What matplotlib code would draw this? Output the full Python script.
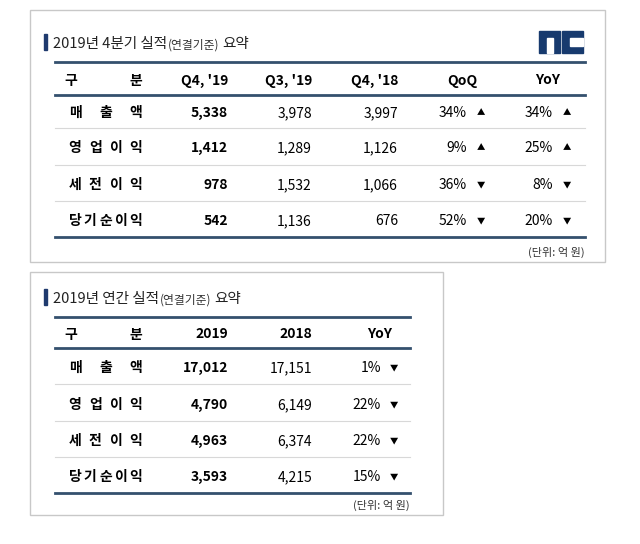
import matplotlib
matplotlib.use("Agg")
import matplotlib.pyplot as plt
from matplotlib.patches import Rectangle
from matplotlib import font_manager

names = {f.name for f in font_manager.fontManager.ttflist}
cands = [n for n in ["Noto Sans CJK KR", "Noto Sans CJK JP", "Noto Sans CJK SC", "Noto Sans CJK TC"] if n in names]
plt.rcParams["font.family"] = cands + ["DejaVu Sans"]

q_cols = ["Q4, '19", "Q3, '19", "Q4, '18", "QoQ", "YoY"]
items = ["매출액", "영업이익", "세전이익", "당기순이익"]
q4_19 = ["5,338", "1,412", "978", "542"]
q3_19 = ["3,978", "1,289", "1,532", "1,136"]
q4_18 = ["3,997", "1,126", "1,066", "676"]
qoq = ["34%", "9%", "36%", "52%"]
qoq_dir = ["▲", "▲", "▼", "▼"]
yoy = ["34%", "25%", "8%", "20%"]
yoy_dir = ["▲", "▲", "▼", "▼"]

y_cols = ["2019", "2018", "YoY"]
a2019 = ["17,012", "4,790", "4,963", "3,593"]
a2018 = ["17,151", "6,149", "6,374", "4,215"]
ayoy = ["1%", "22%", "22%", "15%"]
ayoy_dir = ["▼", "▼", "▼", "▼"]

LINE = "#34506e"
fig = plt.figure(figsize=(6.4, 5.44), dpi=100)
ax = fig.add_axes([0, 0, 1, 1])
ax.set_xlim(0, 640); ax.set_ylim(544, 0); ax.axis("off")
D = 2  # vertical text offset

def box(x0, y0, x1, y1):
    ax.add_patch(Rectangle((x0, y0), x1 - x0, y1 - y0, fill=False, ec="#c8c8c8", lw=1))

def title(x, y, main, sub, tail):
    ax.add_patch(Rectangle((x - 3, y - 8), 3, 16, color="#1f3a6e"))
    t = ax.text(x + 6, y + D, main, fontsize=10.5, va="center", ha="left", color="#222")
    fig.canvas.draw()
    bb = t.get_window_extent()
    x2 = ax.transData.inverted().transform((bb.x1, 0))[0] + 1
    t2 = ax.text(x2, y + 1 + D, sub, fontsize=8.5, va="center", ha="left", color="#333")
    fig.canvas.draw()
    bb2 = t2.get_window_extent()
    x3 = ax.transData.inverted().transform((bb2.x1, 0))[0] + 3
    ax.text(x3, y + D, tail, fontsize=10.5, va="center", ha="left", color="#222")

def item(y, s):
    n = len(s)
    for k, ch in enumerate(s):
        xx = 75 + (136 - 75) * k / (n - 1)
        ax.text(xx, y + D, ch, fontsize=10, fontweight="bold", ha="center", va="center")

def table(x0, x1, ytop, yhead, seps, ybot, unit_y, cols):
    ax.plot([x0, x1], [ytop, ytop], color=LINE, lw=2)
    ax.plot([x0, x1], [yhead, yhead], color=LINE, lw=2)
    for s in seps:
        ax.plot([x0, x1], [s, s], color="#d8d8d8", lw=0.8)
    ax.plot([x0, x1], [ybot, ybot], color=LINE, lw=2)
    hy = (ytop + yhead) / 2 + D
    ax.text(71, hy, "구", fontsize=10, fontweight="bold", ha="center", va="center")
    ax.text(136, hy, "분", fontsize=10, fontweight="bold", ha="center", va="center")
    for (xx, ha, lab) in cols:
        ax.text(xx, hy, lab, fontsize=10, fontweight="bold", ha=ha, va="center")
    ax.text(x1, unit_y + D, "(단위: 억 원)", fontsize=8, ha="right", va="center", color="#333")

box(30, 10, 605, 262)
title(47, 42, "2019년 4분기 실적", "(연결기준)", "요약")
# nc logo
NAVY = "#173a6e"
ax.add_patch(Rectangle((539, 31), 21, 22, color=NAVY))
ax.add_patch(Rectangle((547, 38), 6, 15, color="white"))
ax.add_patch(Rectangle((562, 31), 21, 22, color=NAVY))
ax.add_patch(Rectangle((570, 38), 13, 8, color="white"))
table(55, 585, 62, 95, [128, 165, 201], 237, 250,
      [(228, "right", q_cols[0]), (312, "right", q_cols[1]), (398, "right", q_cols[2]),
       (462, "center", q_cols[3]), (548, "center", q_cols[4])])
ry = [111, 146, 183, 219]
for i, y in enumerate(ry):
    item(y, items[i])
    ax.text(228, y + D, q4_19[i], fontsize=10, fontweight="bold", ha="right", va="center")
    ax.text(312, y + D, q3_19[i], fontsize=10, ha="right", va="center")
    ax.text(398, y + D, q4_18[i], fontsize=10, ha="right", va="center")
    ax.text(467, y + D, qoq[i], fontsize=10, ha="right", va="center")
    ax.text(481, y + D, qoq_dir[i], fontsize=6, ha="center", va="center")
    ax.text(553, y + D, yoy[i], fontsize=10, ha="right", va="center")
    ax.text(567, y + D, yoy_dir[i], fontsize=6, ha="center", va="center")

box(30, 272, 443, 515)
title(47, 297, "2019년 연간 실적", "(연결기준)", "요약")
table(55, 410, 317, 348, [384, 421, 457], 493, 503,
      [(228, "right", y_cols[0]), (312, "right", y_cols[1]), (380, "center", y_cols[2])])
ry2 = [366, 403, 439, 475]
for i, y in enumerate(ry2):
    item(y, items[i])
    ax.text(228, y + D, a2019[i], fontsize=10, fontweight="bold", ha="right", va="center")
    ax.text(312, y + D, a2018[i], fontsize=10, ha="right", va="center")
    ax.text(381, y + D, ayoy[i], fontsize=10, ha="right", va="center")
    ax.text(394, y + D, ayoy_dir[i], fontsize=6, ha="center", va="center")

fig.savefig("out.png", dpi=100)
